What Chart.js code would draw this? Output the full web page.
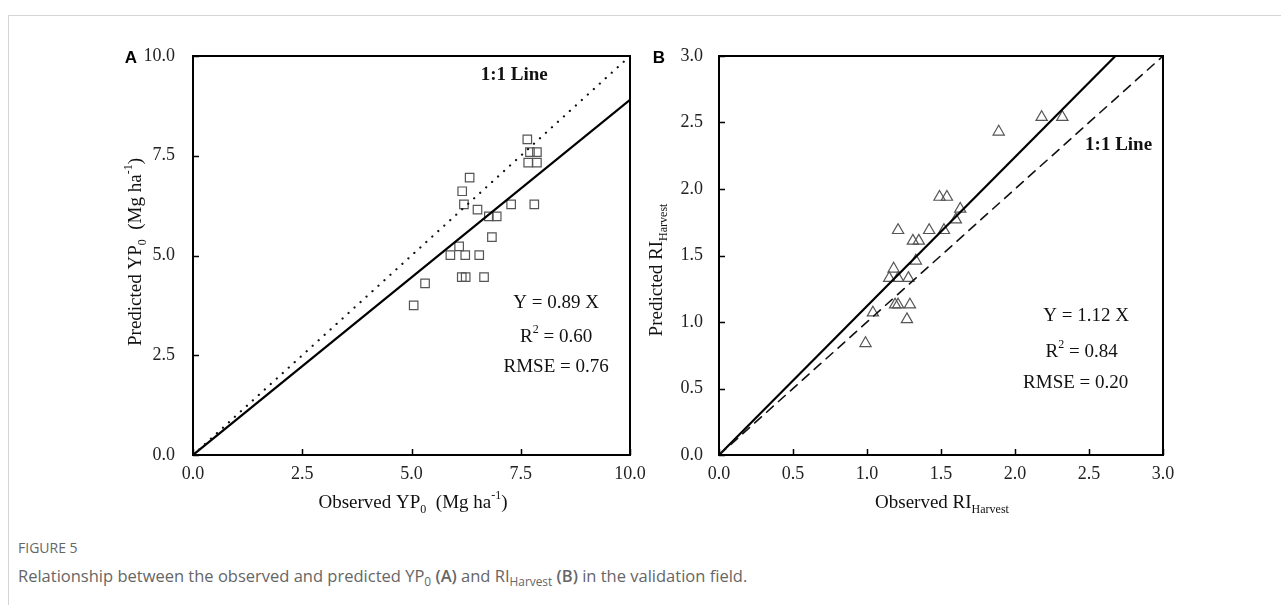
<!DOCTYPE html>
<html>
<head>
<meta charset="utf-8">
<script src="https://cdn.jsdelivr.net/npm/chart.js"></script>
<style>
html, body { margin: 0; padding: 0; background: #fff; overflow: hidden; width: 1281px; height: 605px; }
#frame { position: absolute; left: 8px; top: 15px; width: 1400px; height: 800px; border: 1px solid #d4d4d4; }
canvas { position: absolute; top: 0; }
#chartA { left: 0; }
#chartB { left: 640px; }
.fig { position: absolute; left: 18px; top: 538px; font: 14px "Open Sans", sans-serif; color: #666; }
.cap { position: absolute; left: 18px; top: 564px; font: 16.5px "Open Sans", sans-serif; color: #666; white-space: nowrap; }
.cap sub { font-size: 72%; vertical-align: -0.35em; line-height: 0; }
.cap b { font-weight: 600; }
</style>
</head>
<body>
<div id="frame"></div>
<canvas id="chartA" width="660" height="530"></canvas>
<canvas id="chartB" width="641" height="530"></canvas>
<div class="fig">FIGURE 5</div>
<div class="cap">Relationship between the observed and predicted YP<sub>0</sub> <b>(A)</b> and RI<sub>Harvest</sub> <b>(B)</b> in the validation field.</div>
<script>
// Panel A: yield potential YP0 (Mg ha-1)
const obsYP  = [7.65, 7.71, 7.87, 7.67, 7.87, 6.33, 6.16, 6.20, 6.51, 7.28, 7.81, 6.77, 6.95, 6.84, 6.09, 5.89, 6.23, 6.55, 6.15, 6.24, 6.66, 5.31, 5.05];
const predYP = [7.91, 7.59, 7.59, 7.33, 7.33, 6.95, 6.61, 6.28, 6.15, 6.28, 6.28, 5.98, 5.98, 5.46, 5.23, 5.01, 5.01, 5.01, 4.46, 4.46, 4.46, 4.30, 3.75];
const ypTicks = [0, 2.5, 5, 7.5, 10];
const slopeYP = 0.89;
const statsYP = [[['Y = 0.89 X']], [['R'], ['2', 'sup'], [' = 0.60']], [['RMSE = 0.76']]];

// Panel B: response index RI Harvest
const obsRI  = [2.18, 2.32, 1.89, 1.49, 1.54, 1.63, 1.60, 1.21, 1.42, 1.52, 1.31, 1.35, 1.33, 1.18, 1.15, 1.21, 1.28, 1.19, 1.21, 1.29, 1.04, 1.27, 0.99];
const predRI = [2.54, 2.54, 2.43, 1.94, 1.94, 1.85, 1.77, 1.69, 1.69, 1.69, 1.61, 1.61, 1.46, 1.40, 1.33, 1.33, 1.33, 1.13, 1.13, 1.13, 1.07, 1.02, 0.84];
const riTicks = [0, 0.5, 1, 1.5, 2, 2.5, 3];
const slopeRI = 1.12;
const statsRI = [[['Y = 1.12 X']], [['R'], ['2', 'sup'], [' = 0.84']], [['RMSE = 0.20']]];

const oneToOne = [[['1:1 Line']]];
const serif = '"Liberation Serif", "Times New Roman", serif';

function drawRich(ctx, segs, cx, cy, size, bold) {
    const w = bold ? 'bold ' : '';
    const parts = segs.map(s => {
        const small = s[1] === 'sub' || s[1] === 'sup';
        const font = w + (small ? Math.round(size * 0.62) : size) + 'px ' + serif;
        ctx.font = font;
        const dy = s[1] === 'sub' ? size * 0.38 : s[1] === 'sup' ? -size * 0.38 : 0;
        return { t: s[0], font, dy, w: ctx.measureText(s[0]).width };
    });
    let x = cx - parts.reduce((a, p) => a + p.w, 0) / 2;
    ctx.textAlign = 'left';
    ctx.textBaseline = 'middle';
    parts.forEach(p => {
        ctx.font = p.font;
        ctx.fillText(p.t, x, cy + p.dy);
        x += p.w;
    });
}

const panelPlugin = {
    id: 'panel',
    afterDraw(chart, args, o) {
        const { ctx, chartArea: a, scales: { x, y } } = chart;
        ctx.save();
        ctx.strokeStyle = '#000';
        ctx.fillStyle = '#000';
        // inward tick marks
        ctx.lineWidth = 1.5;
        ctx.beginPath();
        x.ticks.forEach(t => {
            const px = Math.round(x.getPixelForValue(t.value)) + 0.5;
            ctx.moveTo(px, a.bottom); ctx.lineTo(px, a.bottom - 6);
        });
        y.ticks.forEach(t => {
            const py = Math.round(y.getPixelForValue(t.value)) + 0.5;
            ctx.moveTo(a.left, py); ctx.lineTo(a.left + 6, py);
        });
        ctx.stroke();
        // frame
        ctx.lineWidth = 2;
        ctx.strokeRect(a.left, a.top, a.right - a.left, a.bottom - a.top);
        // panel letter
        ctx.font = 'bold 17px "Liberation Sans", Arial, sans-serif';
        ctx.textAlign = 'center';
        ctx.textBaseline = 'middle';
        ctx.fillText(o.letter, a.left - o.letterGap, a.top + 2);
        // axis titles
        ctx.fillStyle = '#111';
        drawRich(ctx, o.xTitle, o.xTitleCx, a.bottom + 48, 19);
        ctx.save();
        ctx.translate(a.left - o.yTitleGap, o.yTitleCy);
        ctx.rotate(-Math.PI / 2);
        drawRich(ctx, o.yTitle, 0, 0, 19);
        ctx.restore();
        // annotations
        o.notes.forEach(n => drawRich(ctx, n.segs, x.getPixelForValue(n.x), y.getPixelForValue(n.y), 19, n.bold));
        ctx.restore();
    }
};

function makePanel(id, obs, pred, ticks, max, slope, marker, refDash, yW, ylPad, pad, panelOpts) {
    const pts = obs.map((v, i) => ({ x: v, y: pred[i] }));
    const regEnd = Math.min(max, max / slope);
    return new Chart(document.getElementById(id), {
        type: 'scatter',
        data: {
            datasets: [
                {
                    type: 'line',
                    data: [{ x: 0, y: 0 }, { x: max, y: max }],
                    borderColor: '#111',
                    borderWidth: refDash[2],
                    borderDash: [refDash[0], refDash[1]],
                    borderCapStyle: 'round',
                    pointRadius: 0,
                    fill: false
                },
                {
                    type: 'line',
                    data: [{ x: 0, y: 0 }, { x: regEnd, y: regEnd * slope }],
                    borderColor: '#000',
                    borderWidth: 2.2,
                    pointRadius: 0,
                    fill: false
                },
                {
                    data: pts,
                    pointStyle: marker,
                    pointRadius: marker === 'rect' ? 6 : 6.5,
                    pointBorderColor: '#555',
                    pointBackgroundColor: 'rgba(0,0,0,0)',
                    pointBorderWidth: 1.2
                }
            ]
        },
        options: {
            responsive: false,
            animation: false,
            events: [],
            layout: { padding: pad },
            plugins: { legend: { display: false }, tooltip: { enabled: false }, panel: panelOpts },
            scales: {
                x: {
                    type: 'linear', min: 0, max: max,
                    afterBuildTicks: s => { s.ticks = ticks.map(v => ({ value: v })); },
                    afterFit: s => { s.height = 40; },
                    grid: { display: false },
                    border: { display: false },
                    ticks: { padding: 0, color: '#222', font: { family: serif, size: 18 }, callback: v => v.toFixed(1), maxRotation: 0 }
                },
                y: {
                    type: 'linear', min: 0, max: max,
                    afterBuildTicks: s => { s.ticks = ticks.map(v => ({ value: v })); },
                    afterFit: s => { s.width = yW; },
                    grid: { display: false },
                    border: { display: false },
                    ticks: { padding: ylPad, color: '#222', font: { family: serif, size: 18 }, callback: v => v.toFixed(1) }
                }
            }
        },
        plugins: [panelPlugin]
    });
}

makePanel('chartA', obsYP, predYP, ypTicks, 10, slopeYP, 'rect', [0.1, 8, 2.2], 60, 10,
    { left: 133, top: 56, right: 30, bottom: 35 },
    {
        letter: 'A', letterGap: 62,
        xTitle: [['Observed YP'], ['0', 'sub'], ['  (Mg ha'], ['-1', 'sup'], [')']], xTitleCx: 413,
        yTitle: [['Predicted YP'], ['0', 'sub'], ['  (Mg ha'], ['-1', 'sup'], [')']], yTitleGap: 57, yTitleCy: 252,
        notes: [
            { segs: oneToOne[0], x: 7.35, y: 9.52, bold: true },
            { segs: statsYP[0], x: 8.31, y: 3.81 },
            { segs: statsYP[1], x: 8.31, y: 2.96 },
            { segs: statsYP[2], x: 8.31, y: 2.21 }
        ]
    });

makePanel('chartB', obsRI, predRI, riTicks, 3, slopeRI, 'triangle', [9, 7, 1.6], 45, 8,
    { left: 34, top: 56, right: 118, bottom: 35 },
    {
        letter: 'B', letterGap: 60,
        xTitle: [['Observed RI'], ['Harvest', 'sub']], xTitleCx: 302,
        yTitle: [['Predicted RI'], ['Harvest', 'sub']], yTitleGap: 62, yTitleCy: 270,
        notes: [
            { segs: oneToOne[0], x: 2.70, y: 2.33, bold: true },
            { segs: statsRI[0], x: 2.48, y: 1.045 },
            { segs: statsRI[1], x: 2.45, y: 0.774 },
            { segs: statsRI[2], x: 2.41, y: 0.541 }
        ]
    });
</script>
</body>
</html>
